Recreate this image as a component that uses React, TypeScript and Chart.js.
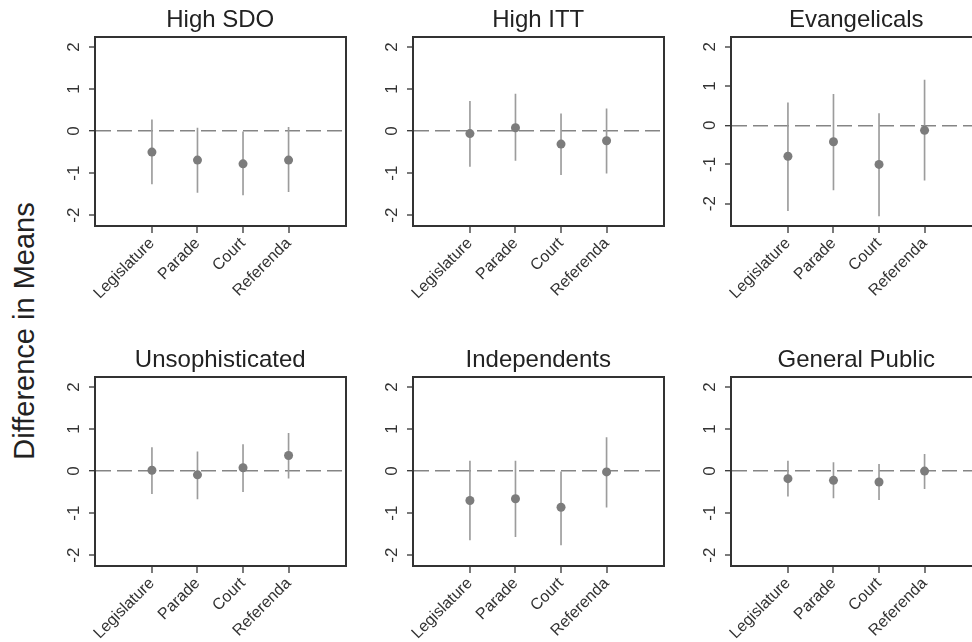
import React, { useEffect, useRef } from "react";
import { Chart, registerables } from "chart.js";

Chart.register(...registerables);

// ---------- data ----------
const categories = ["Legislature", "Parade", "Court", "Referenda"];
const categoryPositions = [1, 2, 3, 4];
const yTickValues = [-2, -1, 0, 1, 2];
const panelTitles = [
  "High SDO",
  "High ITT",
  "Evangelicals",
  "Unsophisticated",
  "Independents",
  "General Public",
];
const yAxisLabel = "Difference in Means";

const highSdoMean = [-0.5, -0.69, -0.78, -0.69];
const highSdoLow = [-1.26, -1.46, -1.52, -1.44];
const highSdoHigh = [0.27, 0.07, 0.0, 0.09];

const highIttMean = [-0.06, 0.08, -0.31, -0.23];
const highIttLow = [-0.84, -0.7, -1.04, -1.0];
const highIttHigh = [0.71, 0.88, 0.41, 0.53];

const evangelicalsMean = [-0.79, -0.42, -1.0, -0.13];
const evangelicalsLow = [-2.18, -1.65, -2.31, -1.4];
const evangelicalsHigh = [0.57, 0.79, 0.3, 1.15];

const unsophisticatedMean = [0.02, -0.09, 0.08, 0.37];
const unsophisticatedLow = [-0.54, -0.66, -0.49, -0.17];
const unsophisticatedHigh = [0.56, 0.46, 0.63, 0.9];

const independentsMean = [-0.7, -0.66, -0.86, -0.02];
const independentsLow = [-1.64, -1.56, -1.76, -0.86];
const independentsHigh = [0.24, 0.24, 0.0, 0.8];

const generalPublicMean = [-0.18, -0.22, -0.26, 0.0];
const generalPublicLow = [-0.6, -0.64, -0.68, -0.42];
const generalPublicHigh = [0.24, 0.2, 0.16, 0.4];

const xRange = [-0.25, 5.25];
const yRangeDefault = [-2.26, 2.24];
const yRangeEvangelicals = [-2.57, 2.25];

const panels = [
  { title: panelTitles[0], mean: highSdoMean, low: highSdoLow, high: highSdoHigh, yRange: yRangeDefault },
  { title: panelTitles[1], mean: highIttMean, low: highIttLow, high: highIttHigh, yRange: yRangeDefault },
  { title: panelTitles[2], mean: evangelicalsMean, low: evangelicalsLow, high: evangelicalsHigh, yRange: yRangeEvangelicals },
  { title: panelTitles[3], mean: unsophisticatedMean, low: unsophisticatedLow, high: unsophisticatedHigh, yRange: yRangeDefault },
  { title: panelTitles[4], mean: independentsMean, low: independentsLow, high: independentsHigh, yRange: yRangeDefault },
  { title: panelTitles[5], mean: generalPublicMean, low: generalPublicLow, high: generalPublicHigh, yRange: yRangeDefault },
];

// ---------- layout / style ----------
const FONT = "'Liberation Sans', Arial, Helvetica, sans-serif";
const Y_AXIS_W = 50;
const X_AXIS_H = 80;
const TITLE_H = 37;
const PLOT_W = 251;
const PLOT_H = 189;
const RIGHT_PAD = 4;
const CANVAS_W = Y_AXIS_W + PLOT_W + RIGHT_PAD;
const CANVAS_H = TITLE_H + PLOT_H + X_AXIS_H;
const COL_PLOT_LEFT = [95, 413, 731];
const ROW_TOP = [0, 340];

const AXIS_COLOR = "#333333";
const POINT_COLOR = "#7c7c7c";
const CI_COLOR = "#9c9c9c";
const ZERO_COLOR = "#858585";

type PanelData = (typeof panels)[number];

function Panel({ p, left, top }: { p: PanelData; left: number; top: number }) {
  const ref = useRef<HTMLCanvasElement>(null);
  useEffect(() => {
    const canvas = ref.current;
    if (!canvas) return;
    const chart = new Chart(canvas, {
      type: "scatter",
      data: {
        datasets: [
          {
            type: "scatter",
            data: categoryPositions.map((x, i) => ({ x, y: p.mean[i] })),
            pointRadius: 4.5,
            pointBackgroundColor: POINT_COLOR,
            pointBorderWidth: 0,
            order: 0,
          } as any,
          {
            type: "bar",
            data: categoryPositions.map((x, i) => ({ x, y: [p.low[i], p.high[i]] })),
            barThickness: 1,
            backgroundColor: CI_COLOR,
            borderWidth: 0,
            grouped: false,
            order: 1,
          } as any,
        ],
      },
      options: {
        responsive: false,
        animation: false,
        devicePixelRatio: 1,
        events: [],
        layout: { padding: { left: 0, right: RIGHT_PAD, top: 0, bottom: 0 } },
        plugins: {
          legend: { display: false },
          tooltip: { enabled: false },
          title: {
            display: true,
            text: p.title,
            fullSize: false,
            color: "#222222",
            font: { family: FONT, size: 24, weight: "normal", lineHeight: 1.2 },
            padding: { top: 5.6, bottom: 2.6 },
          },
        },
        scales: {
          x: {
            type: "linear",
            position: "bottom",
            offset: false,
            min: xRange[0],
            max: xRange[1],
            afterBuildTicks: (s: any) => {
              s.ticks = categoryPositions.map((v) => ({ value: v }));
            },
            afterFit: (s: any) => {
              s.height = X_AXIS_H;
              s.paddingLeft = 0;
              s.paddingRight = 0;
            },
            ticks: {
              autoSkip: false,
              minRotation: 45,
              maxRotation: 45,
              padding: 1,
              color: AXIS_COLOR,
              font: { family: FONT, size: 16 },
              callback: (_v: any, i: number) => categories[i],
            },
            grid: {
              display: true,
              offset: false,
              drawOnChartArea: false,
              drawTicks: true,
              tickLength: 7,
              tickWidth: 1.3,
              tickColor: AXIS_COLOR,
              color: "rgba(0,0,0,0)",
              lineWidth: 0,
            },
            border: { display: true, color: AXIS_COLOR, width: 2 },
          },
          y: {
            type: "linear",
            position: "left",
            offset: false,
            min: p.yRange[0],
            max: p.yRange[1],
            afterBuildTicks: (s: any) => {
              s.ticks = yTickValues.map((v) => ({ value: v }));
            },
            afterFit: (s: any) => {
              s.width = Y_AXIS_W;
              s.paddingTop = 0;
              s.paddingBottom = 0;
            },
            ticks: {
              minRotation: 90,
              maxRotation: 90,
              crossAlign: "center",
              padding: 7,
              color: AXIS_COLOR,
              font: { family: FONT, size: 17 },
              callback: (v: any) => String(v),
            },
            grid: {
              display: true,
              offset: false,
              drawOnChartArea: true,
              drawTicks: true,
              tickLength: 6,
              tickWidth: 1.3,
              tickColor: AXIS_COLOR,
              tickBorderDash: [],
              color: (ctx: any) => (ctx.tick && ctx.tick.value === 0 ? ZERO_COLOR : "rgba(0,0,0,0)"),
              lineWidth: (ctx: any) => (ctx.tick && ctx.tick.value === 0 ? 1.4 : 0),
            },
            border: { display: true, color: AXIS_COLOR, width: 2, dash: [15, 6] },
          },
          x2: {
            type: "linear",
            position: "top",
            display: true,
            offset: false,
            min: xRange[0],
            max: xRange[1],
            ticks: { display: false },
            grid: { display: false, drawTicks: false },
            border: { display: true, color: AXIS_COLOR, width: 2 },
            afterFit: (s: any) => {
              s.height = 0;
              s.paddingLeft = 0;
              s.paddingRight = 0;
            },
          },
          y2: {
            type: "linear",
            position: "right",
            display: true,
            offset: false,
            min: p.yRange[0],
            max: p.yRange[1],
            ticks: { display: false },
            grid: { display: false, drawTicks: false },
            border: { display: true, color: AXIS_COLOR, width: 2 },
            afterFit: (s: any) => {
              s.width = 0;
              s.paddingTop = 0;
              s.paddingBottom = 0;
            },
          },
        },
      } as any,
    });
    return () => chart.destroy();
  }, [p]);
  return (
    <canvas
      ref={ref}
      width={CANVAS_W}
      height={CANVAS_H}
      style={{ position: "absolute", left, top, width: CANVAS_W, height: CANVAS_H, display: "block" }}
    />
  );
}

export default function App() {
  return (
    <div
      style={{
        position: "fixed",
        left: 0,
        top: 0,
        width: 972,
        height: 642,
        overflow: "hidden",
        background: "#ffffff",
      }}
    >
      {panels.map((p, i) => (
        <Panel
          key={p.title}
          p={p}
          left={COL_PLOT_LEFT[i % 3] - Y_AXIS_W}
          top={ROW_TOP[Math.floor(i / 3)]}
        />
      ))}
      <div
        style={{
          position: "absolute",
          left: 23.5,
          top: 330.5,
          transform: "translate(-50%, -50%) rotate(-90deg)",
          whiteSpace: "nowrap",
          fontFamily: FONT,
          fontSize: 29,
          color: "#222222",
          lineHeight: 1,
        }}
      >
        {yAxisLabel}
      </div>
    </div>
  );
}
